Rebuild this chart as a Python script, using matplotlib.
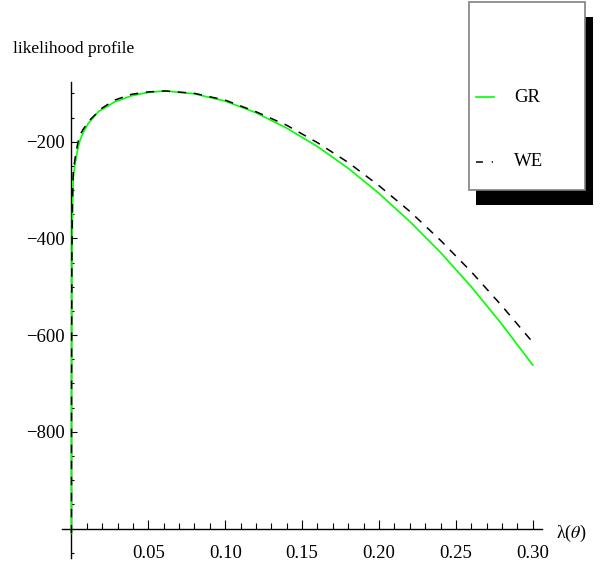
import numpy as np
import matplotlib
matplotlib.use("Agg")
import matplotlib.pyplot as plt
from matplotlib.patches import Rectangle
from matplotlib.lines import Line2D
from matplotlib.ticker import FixedLocator

plt.rcParams['font.family'] = ['Liberation Serif', 'DejaVu Serif']
plt.rcParams['mathtext.fontset'] = 'stix'

# values
gr_x = [0.00002, 0.0001, 0.0003, 0.0007, 0.0012, 0.0023, 0.0034, 0.0045, 0.0056,
        0.0077, 0.011, 0.0175, 0.028, 0.039, 0.05, 0.061, 0.08, 0.10, 0.12,
        0.14, 0.16, 0.18, 0.20, 0.22, 0.24, 0.26, 0.28, 0.30]
gr_y = [-1010, -720, -470, -345, -275, -248, -228, -210, -197,
        -181, -162, -138, -118, -105, -98, -95, -101, -116, -140,
        -172, -210, -255, -307, -365, -429, -500, -578, -662]

we_x = [0.00002, 0.0001, 0.0003, 0.0007, 0.0012, 0.0023, 0.0034, 0.0045, 0.0056,
        0.0077, 0.012, 0.0197, 0.028, 0.039, 0.05, 0.061, 0.08, 0.10, 0.12,
        0.14, 0.16, 0.18, 0.20, 0.22, 0.24, 0.26, 0.28, 0.30]
we_y = [-1010, -700, -445, -320, -262, -236, -215, -198, -186,
        -174, -155, -131, -114, -102, -97, -95, -100, -114, -138,
        -166, -202, -243, -291, -344, -404, -469, -540, -615]

x_major = [0.05, 0.10, 0.15, 0.20, 0.25, 0.30]
x_labels = ['0.05', '0.10', '0.15', '0.20', '0.25', '0.30']
x_minor = [0.01, 0.02, 0.03, 0.04, 0.06, 0.07, 0.08, 0.09, 0.11, 0.12, 0.13, 0.14,
           0.16, 0.17, 0.18, 0.19, 0.21, 0.22, 0.23, 0.24, 0.26, 0.27, 0.28, 0.29]
y_major = [-800, -600, -400, -200]
y_labels = ['\u2212800', '\u2212600', '\u2212400', '\u2212200']
y_minor = [-1050, -1000, -950, -900, -850, -750, -700, -650, -550, -500, -450,
           -350, -300, -250, -150, -100]

W, H = 605, 570
fig = plt.figure(figsize=(W / 100, H / 100), dpi=100)
ax = fig.add_axes([0, 0, 1, 1])
ax.set_xlim(-0.04643, 0.34694)
ax.set_ylim(-1085.8, 93.1)
ax.patch.set_alpha(0)

ax.plot(gr_x, gr_y, color='#00ff00', lw=1.2, zorder=3)
ax.plot(we_x, we_y, color='black', lw=1.1, dashes=(5.5, 5), zorder=4)

for s in ['top', 'right']:
    ax.spines[s].set_visible(False)
ax.spines['left'].set_position(('data', 0))
ax.spines['bottom'].set_position(('data', -1000))
ax.spines['left'].set_bounds(-1061, -76)
ax.spines['bottom'].set_bounds(-0.0061, 0.3058)
for s in ['left', 'bottom']:
    ax.spines[s].set_linewidth(1.0)

ax.xaxis.set_major_locator(FixedLocator(x_major))
ax.xaxis.set_minor_locator(FixedLocator(x_minor))
ax.set_xticklabels(x_labels)
ax.yaxis.set_major_locator(FixedLocator(y_major))
ax.yaxis.set_minor_locator(FixedLocator(y_minor))
ax.set_yticklabels(y_labels)

ax.tick_params(axis='x', which='major', direction='in', length=6.5, width=0.8,
               pad=12, labelsize=13.5)
ax.tick_params(axis='x', which='minor', direction='in', length=4, width=0.8)
ax.tick_params(axis='y', which='major', direction='in', length=4.3, width=0.8,
               pad=4.6, labelsize=13.5)
ax.tick_params(axis='y', which='minor', direction='in', length=2.4, width=0.8)

fig.text(13 / W, 1 - 53 / H, 'likelihood profile', fontsize=12.5,
         ha='left', va='baseline')
fig.text(556 / W, 1 - 533 / H, '\u03bb($\\theta$)', fontsize=13,
         ha='left', va='center')

# legend box with solid shadow
fig.add_artist(Rectangle((476 / W, 1 - 205 / H), 117 / W, 188 / H,
                         transform=fig.transFigure, facecolor='black',
                         edgecolor='none', zorder=5))
fig.add_artist(Rectangle((469 / W, 1 - 190 / H), 116 / W, 188 / H,
                         transform=fig.transFigure, facecolor='white',
                         edgecolor='#808080', lw=1.2, zorder=6))
fig.add_artist(Line2D([476 / W, 494 / W], [1 - 97 / H, 1 - 97 / H],
                      transform=fig.transFigure, color='#00ff00', lw=1.2, zorder=7))
fig.add_artist(Line2D([476 / W, 493 / W], [1 - 162 / H, 1 - 162 / H],
                      transform=fig.transFigure, color='black', lw=1.1,
                      dashes=(4.5, 5.8), zorder=7))
fig.text(514 / W, 1 - 97 / H, 'GR', fontsize=13.5, ha='left', va='center', zorder=8)
fig.text(514 / W, 1 - 162 / H, 'WE', fontsize=13.5, ha='left', va='center', zorder=8)

fig.savefig('out.png', dpi=100)
